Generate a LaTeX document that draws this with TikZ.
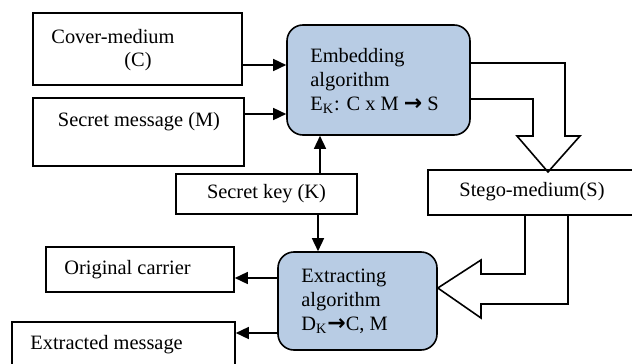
\documentclass[tikz,border=0pt]{standalone}
\usepackage{fontspec}
\setmainfont{Liberation Serif}
\newfontfamily\dejavu{DejaVu Sans}
\usetikzlibrary{arrows.meta}
\definecolor{algblue}{RGB}{184,204,228}
\tikzset{
  box/.style={draw, line width=0.8pt, inner sep=0pt, font=\fontsize{10.2}{12}\selectfont},
  algbox/.style={draw, line width=0.8pt, fill=algblue, rounded corners=8pt, inner sep=0pt},
  txt/.style={inner sep=0pt, font=\fontsize{10.2}{12}\selectfont},
  arr/.style={line width=0.75pt, -{Triangle[length=6.5pt,width=6pt]}},
  blk/.style={line width=0.8pt, line join=miter}
}
\newcommand{\barr}{{\dejavu\bfseries\fontsize{11}{12}\selectfont →}}
\begin{document}
\begin{tikzpicture}[x=0.5pt,y=-0.5pt]
\useasboundingbox (0,0) rectangle (632,364);
\clip (0,0) rectangle (632,364);
% boxes
\node[box, minimum width=104.5pt, minimum height=36pt] (cover) at (137.5,49) {};
\node[txt, anchor=west] (coverT) at (51,37) {Cover-medium};
\node[txt] (coverC) at (138,62) {(C)};
\node[box, minimum width=105.5pt, minimum height=34pt] (secret) at (138.5,132) {};
\node[txt] (secretT) at (139,122) {Secret message (M)};
\node[algbox, minimum width=91.5pt, minimum height=55pt] (emb) at (378.5,80) {};
\node[txt, anchor=west, align=left] (embT) at (310,81) {Embedding\\algorithm\\E\textsubscript{K}: C x M \barr{} S};
\node[box, minimum width=111pt, minimum height=22.5pt] (stego) at (539,192.5) {};
\node[txt] (stegoT) at (532,192) {Stego-medium(S)};
\node[box, minimum width=90.5pt, minimum height=20pt] (key) at (266.5,194) {Secret key (K)};
\node[algbox, minimum width=79.5pt, minimum height=49pt] (ext) at (357.5,301) {};
\node[txt, anchor=west, align=left] (extT) at (301,301) {Extracting\\algorithm\\D\textsubscript{K}\barr C, M};
\node[box, minimum width=94pt, minimum height=22.5pt] (orig) at (140,269.5) {};
\node[txt, anchor=west] (origT) at (64,270) {Original carrier};
\node[box, minimum width=111.5pt, minimum height=34pt] (extm) at (123.5,356) {};
\node[txt, anchor=west] (extmT) at (30,345) {Extracted message};
% helper coordinates
\coordinate (ya) at (0,65);
\coordinate (yb) at (0,114);
\coordinate (xa) at (320,0);
\coordinate (xb) at (318,0);
\coordinate (yc) at (0,278);
\coordinate (yd) at (0,333);
% connectors
\draw[arr] (cover.east |- ya) -- (emb.west |- ya);
\draw[arr] (secret.east |- yb) -- (emb.west |- yb);
\draw[arr] (key.north -| xa) -- (emb.south -| xa);
\draw[arr] (key.south -| xb) -- (ext.north -| xb);
\draw[arr] (ext.west |- yc) -- (orig.east |- yc);
\draw[arr] (ext.west |- yd) -- (extm.east |- yd);
% block arrows
\draw[blk] (emb.east |- 0,63) -- (565,63) -- (565,136) -- (580,136) -- (548,172) -- (517,136) -- (533,136) -- (533,99) -- (emb.east |- 0,99);
\draw[blk] (stego.south -| 525,0) -- (525,274) -- (481,274) -- (481,260) -- (ext.east |- 0,288) -- (481,318) -- (481,304) -- (568,304) -- (stego.south -| 568,0);
\end{tikzpicture}
\end{document}
